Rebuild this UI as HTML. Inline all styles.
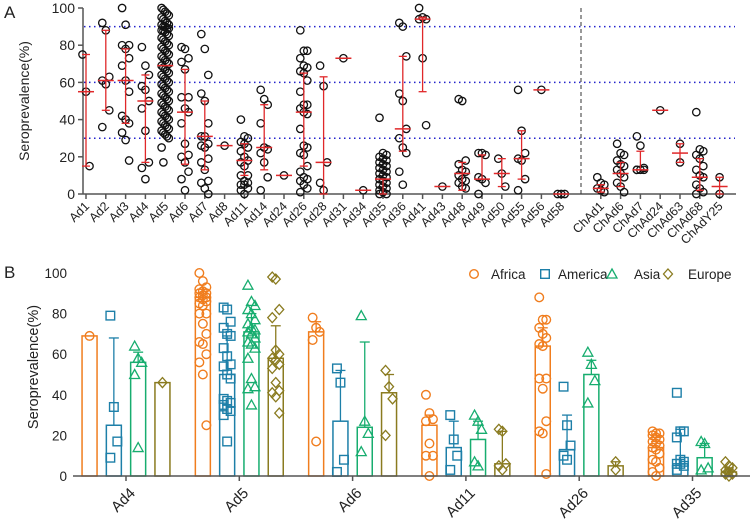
<!DOCTYPE html>
<html><head><meta charset="utf-8"><style>
body{margin:0;background:#fff;}
svg{display:block;font-family:"Liberation Sans",Arial,sans-serif;}
</style></head><body>
<svg id="c" width="750" height="519" viewBox="0 0 750 519"></svg>
<script>
// ---------- Panel A data ----------
const catsA = ["Ad1","Ad2","Ad3","Ad4","Ad5","Ad6","Ad7","Ad8","Ad11","Ad14","Ad24","Ad26","Ad28","Ad31","Ad34","Ad35","Ad36","Ad41","Ad43","Ad48","Ad49","Ad50","Ad55","Ad56","Ad58","","ChAd1","ChAd6","ChAd7","ChAd24","ChAd63","ChAd68","ChAdY25"];
const pointsA = [
 [75,55,15],
 [92,88,63,61,59,45,36],
 [100,91,80,80,78,73,69,61,55,42,40,38,33,29,18],
 [79,69,64,58,56,50,46,34,17,14,8],
 [100,99,98,97,96,95,94,93,92,91,91,90,90,89,89,88,88,87,86,85,84,83,82,81,80,79,78,77,76,75,74,73,72,71,70,69,68,67,66,65,64,63,62,61,60,59,58,57,56,55,54,53,52,51,50,49,48,47,46,45,44,43,42,41,40,39,38,37,36,35,34,33,32,31,30,25,17],
 [79,78,73,71,67,52,52,46,44,38,27,21,20,17,12,8,2],
 [86,78,64,54,50,38,31,31,27,26,25,19,17,13,7,6,3,0],
 [26],
 [40,31,30,28,27,25,23,20,18,17,15,10,10,7,6,5,5,3,2,0],
 [56,51,48,38,25,24,22,17,9,2],
 [10],
 [88,77,77,73,69,68,66,65,61,55,48,48,46,44,43,35,26,25,22,21,15,12,9,8,7,5,3,1],
 [69,58,17,6,2],
 [73],
 [2],
 [41,22,21,20,19,18,17,16,15,14,13,12,11,10,9,8,7,6,5,4,3,2,1,0,0],
 [92,90,74,54,50,35,30,25,22,12,5],
 [100,95,94,94,73,37],
 [4],
 [51,50,18,16,13,12,10,8,7,6,4,3],
 [22,22,21,9,8,6,0],
 [19,11,4],
 [56,34,22,19,18,8,2],
 [56],
 [0,0,0],
 [],
 [9,6,5,3,2,1],
 [27,22,21,18,16,15,13,11,9,6,4,1],
 [31,26,14,13,13,13,13],
 [45],
 [27,17],
 [44,24,23,21,19,15,13,10,9,5,3,1,0],
 [9,0]
];
const medianA = [55,61,61,50,69,44,31,26,18,25,10,44,17,73,2,8,35,94,4,11,8,11,19,56,0,null,3,11,13,45,22,9,4];
const lowA    = [15,45,38,17,null,16,13,null,10,13,null,15,0,null,null,0,23,55,null,2,8,4,8,null,null,null,1,4,13,null,17,2,0];
const highA   = [75,88,78,64,null,67,50,null,27,48,null,65,63,null,null,8,74,95,null,17,21,19,34,null,null,null,5,17,23,null,27,19,9];
const ticksA = [0,20,40,60,80,100];
const refLinesA = [30,60,90];

// ---------- Panel B data ----------
const groupsB = ["Ad4","Ad5","Ad6","Ad11","Ad26","Ad35"];
const regionsB = ["Africa","America","Asia","Europe"];
const barsB = [[69,25,56,46],[88,50,71,58],[71,27,24,41],[25,14,18,6],[64,13,50,5],[14,6,9,2]];
const errB  = [[null,68,61,null],[null,69,80,74],[76,52,66,50],[30,27,27,22],[73,30,57,7],[17,23,16,4]];
const ptsB = [
 [[69],[79,34,17,9],[64,58,56,50,14],[46]],
 [[100,96,93,92,91,90,90,89,88,88,87,86,85,84,80,80,75,70,66,65,60,56,50,25],[83,82,76,73,70,69,63,59,55,54,50,48,38,37,36,35,33,32,30,17],[94,86,84,82,80,77,75,73,72,71,70,68,66,65,63,58,48,44,43,35],[98,97,82,78,62,60,58,57,55,53,46,42,41,39,31]],
 [[78,73,71,67,17],[53,46,8,2],[79,27,21,12],[52,44,38,20]],
 [[40,31,28,27,16,10,10,0],[30,18,10,3],[30,27,23,7,5],[23,22,6,5,3]],
 [[88,77,77,73,70,68,65,64,48,48,43,27,22,21,1],[44,25,15,10,8],[61,55,47,36],[7,3]],
 [[22,21,21,20,19,18,17,16,15,14,13,11,8,7,4,2,0],[41,22,22,19,8,7,6,6,5,3],[17,16,4,3],[7,5,4,3,2,1,1,0]]
];
const ticksB = [0,20,40,60,80,100];

const colors = ["#f07d1e","#1d7fa8","#17ad6f","#8a7b20"];
const NS="http://www.w3.org/2000/svg";
const svg=document.getElementById('c');
function mk(t,a,p){const e=document.createElementNS(NS,t);for(const k in a)e.setAttribute(k,a[k]);(p||svg).appendChild(e);return e;}

// ---------- Panel A ----------
const yA=v=>194-v*1.86;
const xA=i=>86+i*19.8;
const gA=mk('g',{});


let t=mk('text',{x:4,y:18,'font-size':17,fill:'#222'},gA);t.textContent='A';

t=mk('text',{x:0,y:0,'font-size':14,fill:'#222','text-anchor':'middle',transform:'translate(29,101) rotate(-90)'},gA);t.textContent='Seroprevalence(%)';

refLinesA.forEach(v=>{const l=mk('line',{x1:84,x2:735,y1:yA(v),y2:yA(v),stroke:'#2222cc','stroke-width':1.5,'stroke-dasharray':'1.5,3.5'},gA);
 });
let l=mk('line',{x1:83,x2:83,y1:yA(100),y2:yA(0),stroke:'#555','stroke-width':1.5},gA);

l=mk('line',{x1:83,x2:736,y1:yA(0),y2:yA(0),stroke:'#555','stroke-width':1.5},gA);

ticksA.forEach(v=>{mk('line',{x1:78,x2:83,y1:yA(v),y2:yA(v),stroke:'#555','stroke-width':1.5},gA);
 const tt=mk('text',{x:75,y:yA(v)+5,'font-size':14,fill:'#222','text-anchor':'end'},gA);tt.textContent=v;
 });
l=mk('line',{x1:xA(25),x2:xA(25),y1:yA(100),y2:yA(0),stroke:'#333','stroke-width':1,'stroke-dasharray':'4,3'},gA);

catsA.forEach((c,i)=>{
 if(!c)return;
 const x=xA(i);
 mk('line',{x1:x,x2:x,y1:yA(0),y2:yA(0)+5,stroke:'#555','stroke-width':1.5},gA);
 const tt=mk('text',{x:0,y:0,'font-size':12.5,fill:'#222','text-anchor':'end',transform:`translate(${x+4},${207}) rotate(-45)`},gA);tt.textContent=c;
 
 const g=mk('g',{},gA);
 
 const pts=pointsA[i];const n=pts.length;
 pts.forEach((v,j)=>{
  let off=0;
  if(n>60) off=((j%5)-2)*1.8;
  else if(n>2) off=((j%3)-1)*3.5;
  const cc=mk('circle',{cx:x+off,cy:yA(v),r:3.7,fill:'none',stroke:'#111','stroke-width':1.3},g);
  
 });
 if(highA[i]!=null){
  mk('line',{x1:x,x2:x,y1:yA(highA[i]),y2:yA(lowA[i]),stroke:'#e0282a','stroke-width':1.3},g);
  mk('line',{x1:x-4,x2:x+4,y1:yA(highA[i]),y2:yA(highA[i]),stroke:'#e0282a','stroke-width':1.3},g);
  mk('line',{x1:x-4,x2:x+4,y1:yA(lowA[i]),y2:yA(lowA[i]),stroke:'#e0282a','stroke-width':1.3},g);
 }
 if(medianA[i]!=null){
  const m=mk('line',{x1:x-8,x2:x+8,y1:yA(medianA[i]),y2:yA(medianA[i]),stroke:'#e0282a','stroke-width':1.5},g);
  
 }
});

// ---------- Panel B ----------
const yB=v=>476-v*2.03;
const gx=i=>126+i*113.3;
const rx=(i,r)=>gx(i)+(r-1.5)*24.3;
const gB=mk('g',{});

t=mk('text',{x:4,y:278,'font-size':17,fill:'#222'},gB);t.textContent='B';

t=mk('text',{x:0,y:0,'font-size':14.5,fill:'#222','text-anchor':'middle',transform:'translate(38,367) rotate(-90)'},gB);t.textContent='Seroprevalence(%)';

ticksB.forEach(v=>{const tt=mk('text',{x:67,y:yB(v)+5,'font-size':13.5,fill:'#222','text-anchor':'end'},gB);tt.textContent=v;
 });
function marker(p,r,x,y){
 const c=colors[r];let e;
 if(r==0)e=mk('circle',{cx:x,cy:y,r:4.3,fill:'none',stroke:c,'stroke-width':1.4},p);
 else if(r==1)e=mk('rect',{x:x-4.3,y:y-4.3,width:8.6,height:8.6,fill:'none',stroke:c,'stroke-width':1.4},p);
 else if(r==2)e=mk('polygon',{points:`${x},${y-5} ${x+5},${y+4} ${x-5},${y+4}`,fill:'none',stroke:c,'stroke-width':1.3},p);
 else e=mk('polygon',{points:`${x},${y-5} ${x+4.5},${y} ${x},${y+5} ${x-4.5},${y}`,fill:'none',stroke:c,'stroke-width':1.3},p);
 return e;
}
groupsB.forEach((gname,i)=>{
 mk('line',{x1:gx(i),x2:gx(i),y1:yB(0),y2:yB(0)+5,stroke:'#555','stroke-width':1.5},gB);
 const tt=mk('text',{x:0,y:0,'font-size':15,fill:'#222','text-anchor':'end',transform:`translate(${gx(i)+10},${494}) rotate(-45)`},gB);tt.textContent=gname;
 
 regionsB.forEach((rn,r)=>{
  const x=rx(i,r),c=colors[r];
  const g=mk('g',{},gB);
  
  if(errB[i][r]!=null){
   mk('line',{x1:x,x2:x,y1:yB(errB[i][r]),y2:yB(barsB[i][r]),stroke:c,'stroke-width':1.3},g);
   mk('line',{x1:x-5,x2:x+5,y1:yB(errB[i][r]),y2:yB(errB[i][r]),stroke:c,'stroke-width':1.3},g);
  }
  mk('rect',{x:x-7.5,y:yB(barsB[i][r]),width:15,height:yB(0)-yB(barsB[i][r]),fill:'none',stroke:c,'stroke-width':1.5},g);
  const pts=ptsB[i][r];
  pts.forEach((v,j)=>{const off=pts.length>2?((j%3)-1)*3.5:0;
   const m=marker(g,r,x+off,yB(v));});
 });
});
l=mk('line',{x1:73,x2:750,y1:yB(0),y2:yB(0),stroke:'#555','stroke-width':1.5},gB);

const legX=[474,545,612,668];
const legT=[491,558,634,688];
regionsB.forEach((rn,r)=>{
 const g=mk('g',{},gB);
 
 marker(g,r,legX[r],274);
 const tt=mk('text',{x:legT[r],y:279,'font-size':13.5,fill:'#222'},g);tt.textContent=rn;
});
</script>
</body></html>
